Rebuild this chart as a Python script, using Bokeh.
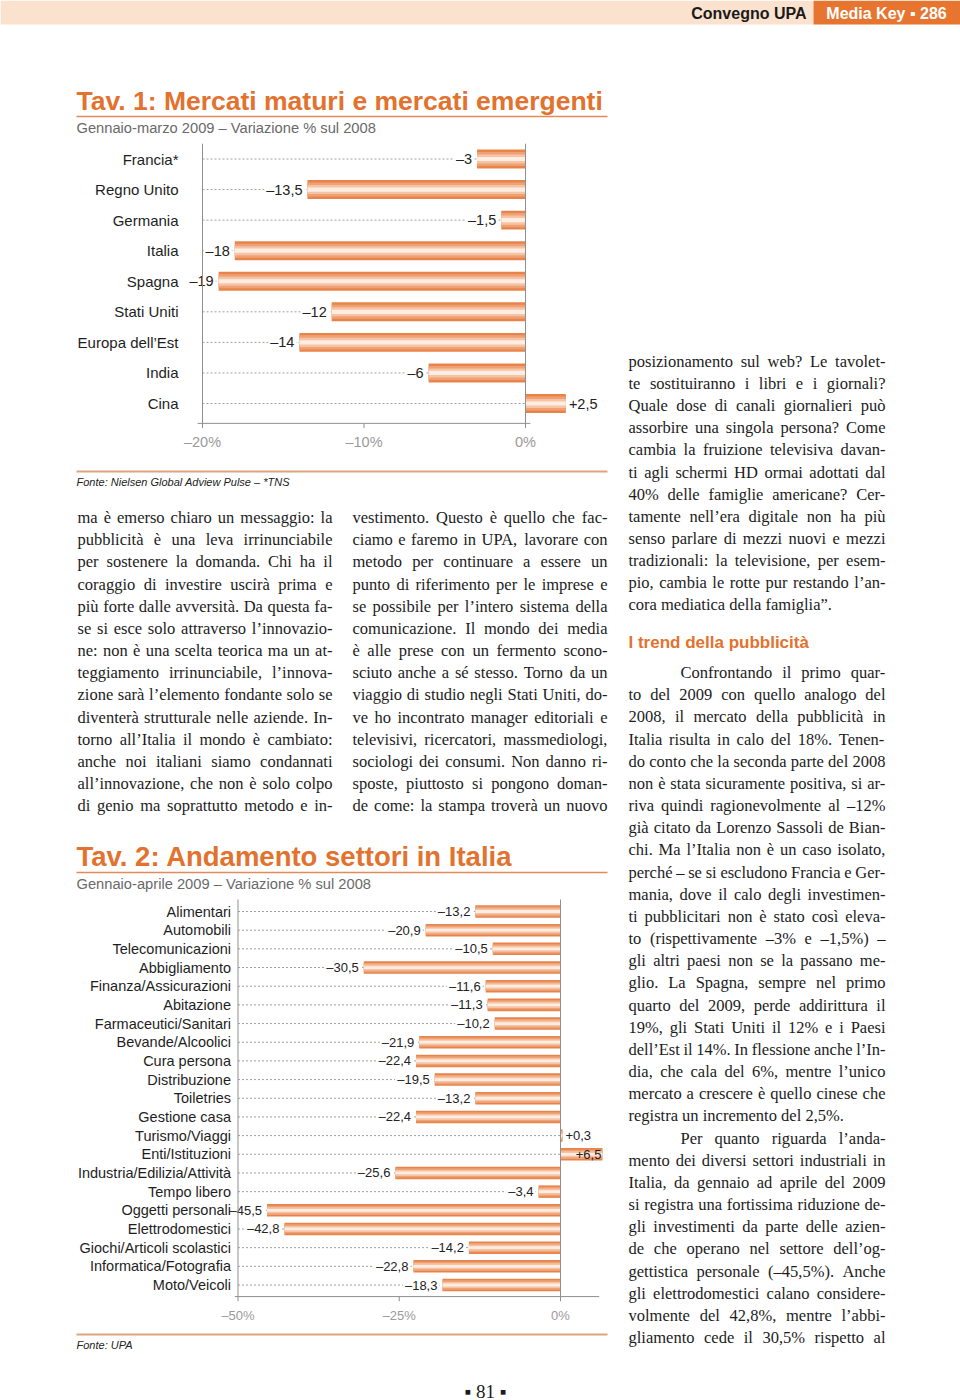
from bokeh.plotting import figure
from bokeh.models import Range1d
from bokeh.core.properties import value
from bokeh.embed import file_html
from bokeh.resources import INLINE

# ---------------- data ----------------
markets = ["Francia*", "Regno Unito", "Germania", "Italia", "Spagna",
           "Stati Uniti", "Europa dell’Est", "India", "Cina"]
market_change = [-3, -13.5, -1.5, -18, -19, -12, -14, -6, 2.5]
market_ticks = [-20, -10, 0]
market_tick_labels = ["–20%", "–10%", "0%"]

sectors = ["Alimentari", "Automobili", "Telecomunicazioni", "Abbigliamento",
           "Finanza/Assicurazioni", "Abitazione", "Farmaceutici/Sanitari",
           "Bevande/Alcoolici", "Cura persona", "Distribuzione", "Toiletries",
           "Gestione casa", "Turismo/Viaggi", "Enti/Istituzioni",
           "Industria/Edilizia/Attività", "Tempo libero", "Oggetti personali",
           "Elettrodomestici", "Giochi/Articoli scolastici",
           "Informatica/Fotografia", "Moto/Veicoli"]
sector_change = [-13.2, -20.9, -10.5, -30.5, -11.6, -11.3, -10.2, -21.9, -22.4,
                 -19.5, -13.2, -22.4, 0.3, 6.5, -25.6, -3.4, -45.5, -42.8,
                 -14.2, -22.8, -18.3]
sector_ticks = [-50, -25, 0]
sector_tick_labels = ["–50%", "–25%", "0%"]

col_left = [
    "ma è emerso chiaro un messaggio: la",
    "pubblicità è una leva irrinunciabile",
    "per sostenere la domanda. Chi ha il",
    "coraggio di investire uscirà prima e",
    "più forte dalle avversità. Da questa fa-",
    "se si esce solo attraverso l’innovazio-",
    "ne: non è una scelta teorica ma un at-",
    "teggiamento irrinunciabile, l’innova-",
    "zione sarà l’elemento fondante solo se",
    "diventerà strutturale nelle aziende. In-",
    "torno all’Italia il mondo è cambiato:",
    "anche noi italiani siamo condannati",
    "all’innovazione, che non è solo colpo",
    "di genio ma soprattutto metodo e in-",
]
col_mid = [
    "vestimento. Questo è quello che fac-",
    "ciamo e faremo in UPA, lavorare con",
    "metodo per continuare a essere un",
    "punto di riferimento per le imprese e",
    "se possibile per l’intero sistema della",
    "comunicazione. Il mondo dei media",
    "è alle prese con un fermento scono-",
    "sciuto anche a sé stesso. Torno da un",
    "viaggio di studio negli Stati Uniti, do-",
    "ve ho incontrato manager editoriali e",
    "televisivi, ricercatori, massmediologi,",
    "sociologi dei consumi. Non danno ri-",
    "sposte, piuttosto si pongono doman-",
    "de come: la stampa troverà un nuovo",
]
col_right_a = [
    "posizionamento sul web? Le tavolet-",
    "te sostituiranno i libri e i giornali?",
    "Quale dose di canali giornalieri può",
    "assorbire una singola persona? Come",
    "cambia la fruizione televisiva davan-",
    "ti agli schermi HD ormai adottati dal",
    "40% delle famiglie americane? Cer-",
    "tamente nell’era digitale non ha più",
    "senso parlare di mezzi nuovi e mezzi",
    "tradizionali: la televisione, per esem-",
    "pio, cambia le rotte pur restando l’an-",
    "cora mediatica della famiglia”.",
]
heading_right = "I trend della pubblicità"
col_right_b = [
    "Confrontando il primo quar-",
    "to del 2009 con quello analogo del",
    "2008, il mercato della pubblicità in",
    "Italia risulta in calo del 18%. Tenen-",
    "do conto che la seconda parte del 2008",
    "non è stata sicuramente positiva, si ar-",
    "riva quindi ragionevolmente al –12%",
    "già citato da Lorenzo Sassoli de Bian-",
    "chi. Ma l’Italia non è un caso isolato,",
    "perché – se si escludono Francia e Ger-",
    "mania, dove il calo degli investimen-",
    "ti pubblicitari non è stato così eleva-",
    "to (rispettivamente –3% e –1,5%) –",
    "gli altri paesi non se la passano me-",
    "glio. La Spagna, sempre nel primo",
    "quarto del 2009, perde addirittura il",
    "19%, gli Stati Uniti il 12% e i Paesi",
    "dell’Est il 14%. In flessione anche l’In-",
    "dia, che cala del 6%, mentre l’unico",
    "mercato a crescere è quello cinese che",
    "registra un incremento del 2,5%.",
    "Per quanto riguarda l’anda-",
    "mento dei diversi settori industriali in",
    "Italia, da gennaio ad aprile del 2009",
    "si registra una fortissima riduzione de-",
    "gli investimenti da parte delle azien-",
    "de che operano nel settore dell’og-",
    "gettistica personale (–45,5%). Anche",
    "gli elettrodomestici calano considere-",
    "volmente del 42,8%, mentre l’abbi-",
    "gliamento cede il 30,5% rispetto al",
]

# ---------------- styles ----------------
SANS = value("Liberation Sans")
SERIF = value("Liberation Serif")
NARROW = value("Liberation Sans Narrow, Liberation Sans")
ORANGE = "#E2722E"
AXIS = "#8f8f8f"
DASH = "#a0a0a0"
BAR_LAYERS = [(1.0, "#E8844A"), (0.74, "#EFA074"), (0.48, "#F6C4A4"), (0.22, "#FDEDE2")]

# Times / Liberation Serif advance widths (per 1000 em)
TW = dict(a=444, b=500, c=444, d=500, e=444, f=333, g=500, h=500, i=278, j=278, k=500,
          l=278, m=778, n=500, o=500, p=500, q=500, r=333, s=389, t=278, u=500, v=500,
          w=722, x=500, y=500, z=444,
          A=722, B=667, C=667, D=722, E=611, F=556, G=722, H=722, I=333, J=389, K=722,
          L=611, M=889, N=722, O=722, P=556, Q=722, R=667, S=556, T=611, U=722, V=722,
          W=944, X=722, Y=722, Z=611)
TW.update({" ": 250, ".": 250, ",": 250, ":": 278, ";": 278, "?": 444, "!": 333,
           "-": 333, "–": 500, "’": 333, "“": 444, "”": 444, "(": 333, ")": 333,
           "%": 833, "/": 278, "à": 444, "è": 444, "é": 444, "ì": 278, "ò": 500, "ù": 500})
for dch in "0123456789":
    TW[dch] = 500


def tw(s, size):
    return sum(TW.get(ch, 500) for ch in s) * size / 1000.0


def justify(lines, x0, x1, y0, lead, size, finals=(), indents=None):
    indents = indents or {}
    xs, ys, ts = [], [], []
    for k, line in enumerate(lines):
        y = y0 + k * lead
        left = x0 + indents.get(k, 0)
        words = line.split()
        ws = [tw(w, size) for w in words]
        if k in finals or len(words) < 2:
            gap = tw(" ", size)
        else:
            gap = max(2.0, (x1 - left - sum(ws)) / (len(words) - 1))
        x = left
        for w, wd in zip(words, ws):
            xs.append(x)
            ys.append(y)
            ts.append(w)
            x += wd + gap
    return xs, ys, ts


def fmt(v):
    s = ("%g" % abs(v)).replace(".", ",")
    return ("+" if v > 0 else "–") + s


# ---------------- page ----------------
PW, PH = 960, 1400
p = figure(width=PW, height=PH, x_range=Range1d(0, PW), y_range=Range1d(PH, 0),
           output_backend="svg", toolbar_location=None, x_axis_type=None, y_axis_type=None,
           min_border=0, outline_line_color=None,
           background_fill_color="white", border_fill_color="white")

# header band
p.quad(left=[0], right=[813], top=[0], bottom=[24], fill_color="#FBE2CF", line_color=None)
p.quad(left=[813], right=[960], top=[0], bottom=[24], fill_color="#E8752F", line_color=None)
p.text(x=[806], y=[13], text=["Convegno UPA"], text_font=SANS, text_font_style="bold",
       text_font_size="16px", text_align="right", text_baseline="middle", text_color="#1a1a1a")
p.text(x=[886], y=[13], text=["Media Key ▪ 286"], text_font=SANS, text_font_style="bold",
       text_font_size="16px", text_align="center", text_baseline="middle", text_color="white")


def title_block(y, title, subtitle, size):
    p.text(x=[76], y=[y], text=[title], text_font=SANS, text_font_style="bold",
           text_font_size=size, text_align="left", text_baseline="middle", text_color=ORANGE)
    p.segment(x0=[76], x1=[607], y0=[y + 16], y1=[y + 16], line_color="#E3895A", line_width=1.5)
    p.text(x=[76], y=[y + 27], text=[subtitle], text_font=SANS, text_font_size="14.7px",
           text_align="left", text_baseline="middle", text_color="#6a6a6a")


def source_block(y, txt):
    p.segment(x0=[76], x1=[607], y0=[y], y1=[y], line_color="#DBA47F", line_width=2)
    p.text(x=[76], y=[y + 10], text=[txt], text_font=SANS, text_font_style="italic",
           text_font_size="11px", text_align="left", text_baseline="middle", text_color="#222222")


def bar_chart(sub, cats, vals, ticks, tick_labels, bar_h, cat_size, val_font, val_size,
              tick_font, tick_size, axis_pad, tick_gap, top_pad, x_over, cat_off, inside_from):
    idx = list(range(len(cats)))
    lo = ticks[0]
    neg = [i for i in idx if vals[i] < 0]
    pos_out = [i for i in idx if 0 <= vals[i] < inside_from]
    pos_in = [i for i in idx if vals[i] >= inside_from]
    ay = len(cats) - 1 + axis_pad
    # leader lines
    sub.segment(x0=[lo] * len(idx), x1=[min(v, 0) for v in vals], y0=idx, y1=idx,
                line_color=DASH, line_width=1, line_dash="2 2")
    # bars (layered for the cylinder shading)
    for f, c in BAR_LAYERS:
        sub.hbar(y=idx, left=0, right=vals, height=bar_h * f, fill_color=c, line_color=None)
    # value labels
    common = dict(text_baseline="middle", text_font=val_font, text_font_size=val_size,
                  text_color="#222222")
    sub.text(x=[vals[i] for i in neg], y=neg, text=[fmt(vals[i]) for i in neg],
             x_offset=-3, text_align="right", background_fill_color="white", padding=2,
             **common)
    sub.text(x=[vals[i] for i in pos_out], y=pos_out, text=[fmt(vals[i]) for i in pos_out],
             x_offset=3, text_align="left", **common)
    sub.text(x=[vals[i] for i in pos_in], y=pos_in, text=[fmt(vals[i]) for i in pos_in],
             x_offset=-1, text_align="right", **common)
    # category labels
    sub.text(x=[lo] * len(idx), y=idx, text=cats, x_offset=cat_off, text_align="right",
             text_baseline="middle", text_font=SANS, text_font_size=cat_size,
             text_color="#1e1e1e")
    # axes
    sub.segment(x0=[lo, 0], x1=[lo, 0], y0=[-top_pad, -top_pad], y1=[ay, ay],
                line_color=AXIS, line_width=1)
    sub.segment(x0=[lo - x_over[0]], x1=[x_over[1]], y0=[ay], y1=[ay], line_color=AXIS,
                line_width=1)
    sub.segment(x0=ticks, x1=ticks, y0=[ay] * len(ticks), y1=[ay + tick_gap * 0.25] * len(ticks),
                line_color=AXIS, line_width=1)
    sub.text(x=ticks, y=[ay + tick_gap] * len(ticks), text=tick_labels, text_align="center",
             text_baseline="middle", text_font=tick_font, text_font_size=tick_size,
             text_color="#9a9a9a")


# ---------------- Tav. 1 ----------------
title_block(100, "Tav. 1: Mercati maturi e mercati emergenti",
            "Gennaio-marzo 2009 – Variazione % sul 2008", "26.5px")
c1 = p.subplot(x_source=Range1d(-20, 0), y_source=Range1d(0, len(markets) - 1),
               x_target=Range1d(202, 525), y_target=Range1d(158.5, 403))
bar_chart(c1, markets, market_change, market_ticks, market_tick_labels, 0.62, "15px",
          SANS, "14.5px", SANS, "14.5px", 0.65, 0.62, 0.5, (0.3, 0.3), -24, 10)
source_block(471, "Fonte: Nielsen Global Adview Pulse – *TNS")

# ---------------- body text ----------------
BODY = 16.5
LEAD = 22.17
for lines, x0, x1, y0, lead, fin, ind in [
        (col_left, 77, 332, 517, LEAD, (), None),
        (col_mid, 352, 607, 517, LEAD, (), None),
        (col_right_a, 628, 885, 361, 22.1, (len(col_right_a) - 1,), None),
        (col_right_b, 628, 885, 672, LEAD, (20,), {0: 52, 21: 52})]:
    xs, ys, ts = justify(lines, x0, x1, y0, lead, BODY, fin, ind)
    p.text(x=xs, y=ys, text=ts, text_font=SERIF, text_font_size="%gpx" % BODY,
           text_align="left", text_baseline="middle", text_color="#1c1c1c")

p.text(x=[628], y=[642], text=[heading_right], text_font=SANS, text_font_style="bold",
       text_font_size="17px", text_align="left", text_baseline="middle", text_color=ORANGE)

# ---------------- Tav. 2 ----------------
title_block(856, "Tav. 2: Andamento settori in Italia",
            "Gennaio-aprile 2009 – Variazione % sul 2008", "27.5px")
c2 = p.subplot(x_source=Range1d(-50, 0), y_source=Range1d(0, len(sectors) - 1),
               x_target=Range1d(237.5, 560), y_target=Range1d(911, 1284.5))
bar_chart(c2, sectors, sector_change, sector_ticks, sector_tick_labels, 0.67, "14.5px",
          NARROW, "13px", NARROW, "13px", 0.62, 1.0, 0.64, (0.5, 6.0), -7, 3)
source_block(1334, "Fonte: UPA")

# page number
p.text(x=[485], y=[1391], text=["▪ 81 ▪"], text_font=SERIF, text_font_size="19px",
       text_align="center", text_baseline="middle", text_color="#1c1c1c")

open("out.html", "w").write(file_html(p, INLINE))
